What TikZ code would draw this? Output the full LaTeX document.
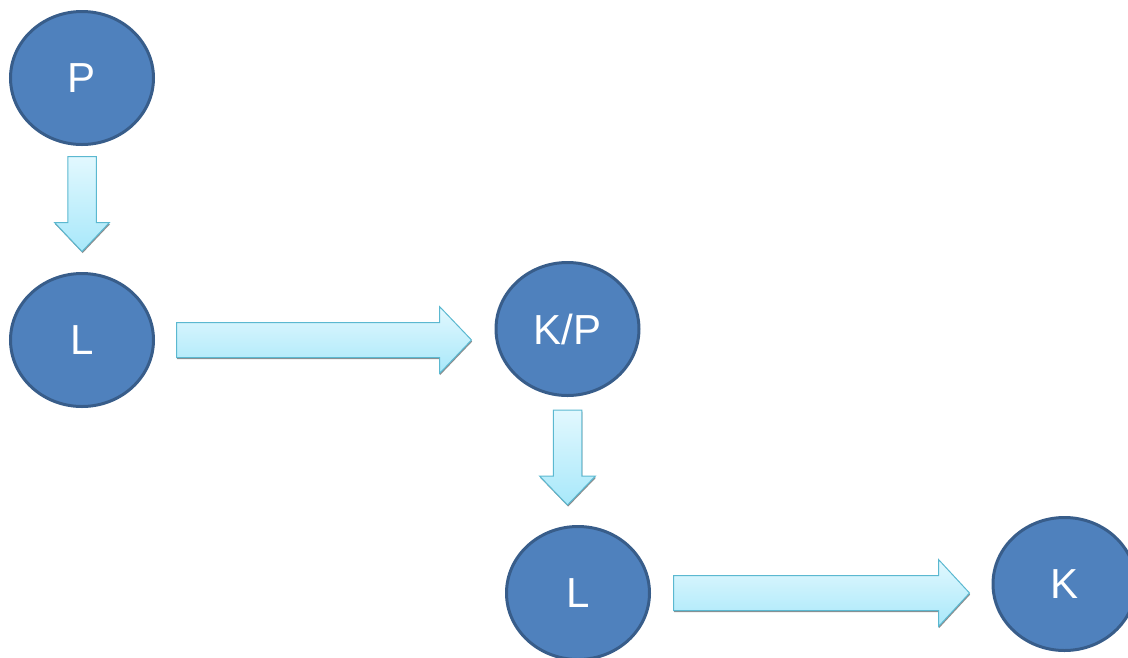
\documentclass[tikz,border=0pt]{standalone}
\usepackage{fontspec}
\setmainfont{Liberation Sans}
\usetikzlibrary{calc,shadows,shapes.geometric}

\definecolor{circfill}{HTML}{4F81BD}
\definecolor{circline}{HTML}{385D8A}
\definecolor{arrtop}{HTML}{E2F8FE}
\definecolor{arrbot}{HTML}{A8E8FA}
\definecolor{arrline}{HTML}{5BB8D0}

% block arrow: from, to, shaft half width, head half width, head length
\newcommand{\blockarrow}[5]{
	\coordinate (ba-s) at (#1);
	\coordinate (ba-e) at (#2);
	\coordinate (ba-h) at ($(ba-e)!#5!(ba-s)$);
	\path[blockarrow] ($(ba-s)!#3!90:(ba-e)$) -- ($(ba-h)!#3!90:(ba-e)$) -- ($(ba-h)!#4!90:(ba-e)$) -- (ba-e)
		-- ($(ba-h)!#4!-90:(ba-e)$) -- ($(ba-h)!#3!-90:(ba-e)$) -- ($(ba-s)!#3!-90:(ba-e)$) -- cycle;
}

\begin{document}
\begin{tikzpicture}[x=1pt,y=-1pt]
		\tikzstyle{state}=[ellipse,draw=circline,line width=3pt,fill=circfill,text=white,
			minimum width=143pt,minimum height=133pt,inner sep=0pt,font=\fontsize{42}{50}\selectfont]
		\tikzstyle{blockarrow}=[draw=arrline,line width=1pt,line join=miter,top color=arrtop,bottom color=arrbot,
			drop shadow={shadow xshift=0.6pt,shadow yshift=-1.6pt,fill=black!45,opacity=1}]
		
		\useasboundingbox (0,0) rectangle (1128,657);
		
		\node[state] (P) at (82,78) {P};
		\node[state] (L1) at (82,340) {L};
		\node[state] (KP) at (567.5,329) {K/P};
		\node[state] (L2) at (578,593) {L};
		\node[state] (K) at (1064.5,584) {K};
		
		\blockarrow{$(P.south)+(0,10.5)$}{$(L1.north)+(0,-20.5)$}{14.25pt}{27.5pt}{29pt}
		\blockarrow{$(L1.east)+(21.5,0)$}{$(L1.east -| KP.west)+(-23,0)$}{17.5pt}{33.5pt}{32pt}
		\blockarrow{$(KP.south)+(0,13)$}{$(KP.south |- L2.north)+(0,-20)$}{14.25pt}{28pt}{29pt}
		\blockarrow{$(L2.east)+(22.5,0)$}{$(L2.east -| K.west)+(-22,0)$}{17.5pt}{33.5pt}{31pt}
\end{tikzpicture}
\end{document}
